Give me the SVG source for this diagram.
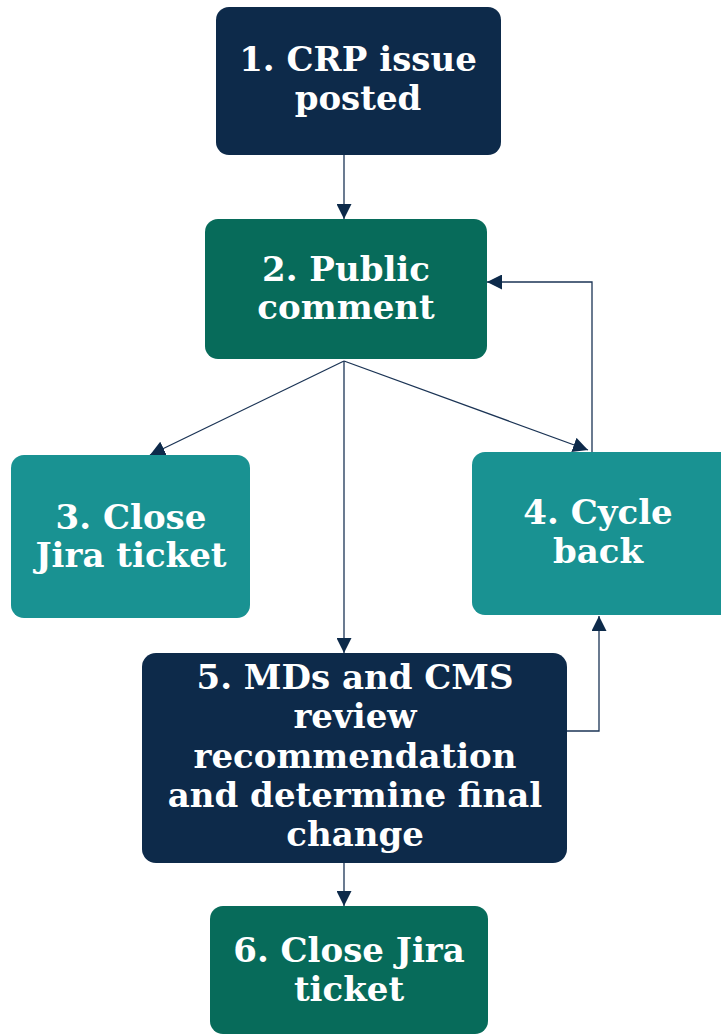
<svg xmlns="http://www.w3.org/2000/svg" width="721" height="1035" viewBox="0 0 721 1035">
<style>
.navy{fill:#0d2a4a}
.green{fill:#076b5a}
.teal{fill:#199292}
.lbl{font-family:"DejaVu Serif","Liberation Serif",serif;font-weight:bold;font-size:34px;fill:#ffffff;text-anchor:middle}
.conn{fill:none;stroke:#1b3455;stroke-width:1.3}
</style>
<defs>
<marker id="arr" markerUnits="userSpaceOnUse" markerWidth="17" markerHeight="15" refX="15" refY="7.5" orient="auto">
<path d="M0,0 L15,7.5 L0,15 Z" fill="#0d2a4a"/>
</marker>
</defs>
<rect width="721" height="1035" fill="#ffffff"/>
<g id="connectors">
<line class="conn" x1="344" y1="155" x2="344" y2="219" marker-end="url(#arr)"/>
<line class="conn" x1="344" y1="361" x2="150" y2="455" marker-end="url(#arr)"/>
<line class="conn" x1="344" y1="361" x2="344" y2="653" marker-end="url(#arr)"/>
<line class="conn" x1="344" y1="361" x2="588" y2="450" marker-end="url(#arr)"/>
<polyline class="conn" points="592,452 592,282 487,282" marker-end="url(#arr)"/>
<polyline class="conn" points="567,731 599,731 599,616" marker-end="url(#arr)"/>
<line class="conn" x1="344" y1="863" x2="344" y2="906" marker-end="url(#arr)"/>
</g>
<g id="node1">
<rect class="navy" x="216" y="7" width="285" height="148" rx="13"/>
<text class="lbl" x="358" y="71">1. CRP issue</text>
<text class="lbl" x="358" y="110">posted</text>
</g>
<g id="node2">
<rect class="green" x="205" y="219" width="282" height="140" rx="13"/>
<text class="lbl" x="346" y="281">2. Public</text>
<text class="lbl" x="346" y="319">comment</text>
</g>
<g id="node3">
<rect class="teal" x="11" y="455" width="239" height="163" rx="13"/>
<text class="lbl" x="131" y="529">3. Close</text>
<text class="lbl" x="131" y="567">Jira ticket</text>
</g>
<g id="node4">
<rect class="teal" x="472" y="452" width="262" height="163" rx="13"/>
<text class="lbl" x="598" y="524">4. Cycle</text>
<text class="lbl" x="598" y="563">back</text>
</g>
<g id="node5">
<rect class="navy" x="142" y="653" width="425" height="210" rx="14"/>
<text class="lbl" x="355" y="689">5. MDs and CMS</text>
<text class="lbl" x="355" y="728">review</text>
<text class="lbl" x="355" y="768">recommendation</text>
<text class="lbl" x="355" y="807">and determine final</text>
<text class="lbl" x="355" y="846">change</text>
</g>
<g id="node6">
<rect class="green" x="210" y="906" width="278" height="128" rx="13"/>
<text class="lbl" x="349" y="962">6. Close Jira</text>
<text class="lbl" x="349" y="1001">ticket</text>
</g>
</svg>
